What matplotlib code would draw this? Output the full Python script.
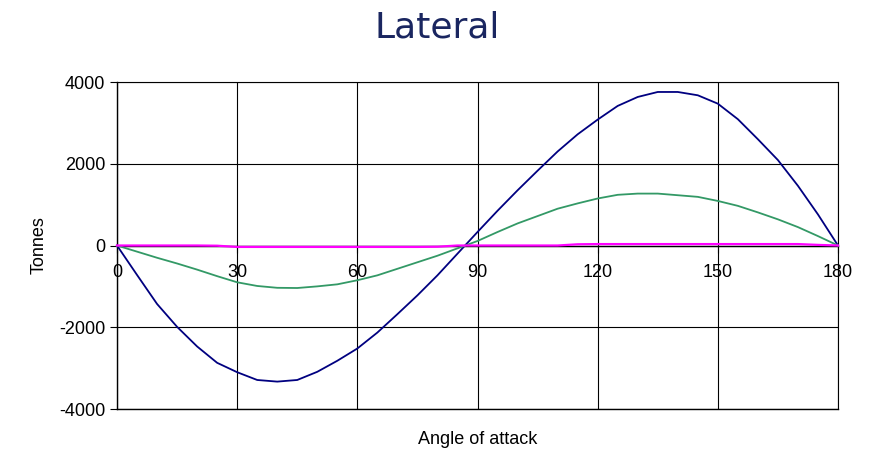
import matplotlib
matplotlib.use("Agg")
import matplotlib.pyplot as plt

plt.rcParams["axes.unicode_minus"] = False

angles = [0, 5, 10, 15, 20, 25, 30, 35, 40, 45, 50, 55, 60, 65, 70, 75, 80, 85, 90,
          95, 100, 105, 110, 115, 120, 125, 130, 135, 140, 145, 150, 155, 160, 165, 170, 175, 180]

blue = [0, -720, -1430, -1990, -2470, -2870, -3100, -3290, -3330, -3290, -3090, -2820, -2520,
        -2130, -1680, -1220, -730, -200, 330, 850, 1350, 1830, 2300, 2720, 3080, 3415, 3634,
        3756, 3756, 3675, 3470, 3090, 2600, 2090, 1460, 760, 0]

green = [0, -150, -300, -440, -590, -750, -900, -990, -1035, -1040, -1000, -950, -850,
         -730, -570, -410, -250, -70, 110, 330, 540, 720, 900, 1030, 1150, 1240, 1270,
         1270, 1230, 1190, 1090, 970, 810, 640, 450, 230, 0]

magenta = [0, 0, 0, 0, 0, -5, -35, -35, -35, -35, -35, -35, -35, -35, -35, -35, -30, 0, 0,
           0, 0, 0, 0, 30, 35, 35, 35, 35, 35, 35, 35, 35, 35, 35, 35, 15, 0]

xticks = [0, 30, 60, 90, 120, 150, 180]
yticks = [-4000, -2000, 0, 2000, 4000]

fig = plt.figure(figsize=(8.71, 4.57), dpi=100)
ax = fig.add_axes([117/871, 1-409/457, (838-117)/871, (409-82)/457])

ax.plot(angles, blue, color="#000080", lw=1.3, zorder=3, clip_on=False)
ax.plot(angles, green, color="#339966", lw=1.3, zorder=3, clip_on=False)
ax.plot(angles, magenta, color="#FF00FF", lw=1.6, zorder=4, clip_on=False)

ax.set_xlim(0, 180)
ax.set_ylim(-4000, 4000)
ax.set_xticks(xticks)
ax.set_yticks(yticks)
ax.grid(True, color="black", lw=0.8, zorder=1)
ax.set_axisbelow(True)
ax.axhline(yticks[0], color="black", lw=1.0, clip_on=False, zorder=1)

for s in ["top", "right"]:
    ax.spines[s].set_linewidth(0.8)
    ax.spines[s].set_color("black")
ax.spines["bottom"].set_position(("data", 0))
ax.spines["bottom"].set_linewidth(1.0)
ax.spines["left"].set_linewidth(1.0)

font = "Liberation Sans"
ax.tick_params(axis="both", direction="out", length=5, width=0.8, labelsize=13)
ax.tick_params(axis="x", pad=8)
for lab in ax.get_xticklabels() + ax.get_yticklabels():
    lab.set_fontfamily(font)

ax.set_ylabel("Tonnes", fontsize=13, family=font, labelpad=8)
fig.text(478/871, 1-440/457, "Angle of attack", fontsize=13, family=font,
         ha="center", va="center")
fig.text(437/871, 1-27/457, "Lateral", fontsize=26, family="DejaVu Sans",
         color="#1A2660", ha="center", va="center")

fig.savefig("out.png", dpi=100)
